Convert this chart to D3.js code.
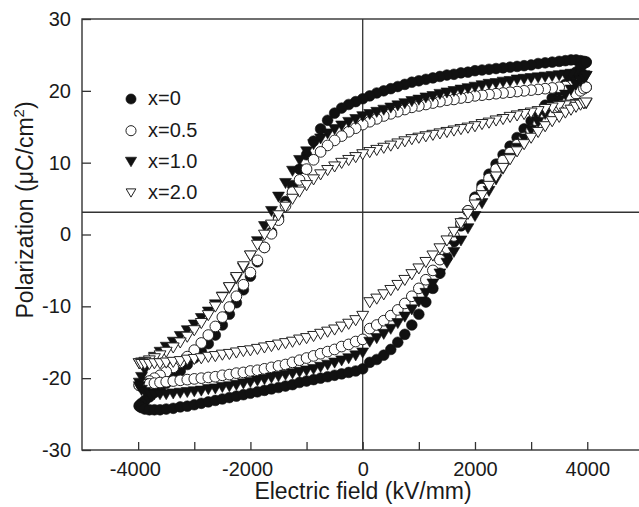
<!DOCTYPE html>
<html><head><meta charset="utf-8">
<script src="https://cdn.jsdelivr.net/npm/d3@7"></script>
<style>
body{margin:0;background:#fff}
svg{display:block}
text{font-family:Arial,"Liberation Sans",Helvetica,sans-serif;fill:#1a1a1a}
</style></head>
<body><svg id="c" width="639" height="507"></svg>
<script>
// ---- data ----
const xTicksMajor = [-4000,-2000,0,2000,4000];
const xTicksMinor = [-3000,-1000,1000,3000];
const yTicks = [-30,-20,-10,0,10,20,30];
const seriesNames = ["x=0","x=0.5","x=1.0","x=2.0"];
const refLineP = 3.1;

// field sweep: descending branch (upper) and ascending branch (lower)
const fieldDown = [3980,3940,3880,3800,3710,3610,3500,
 3375,3250,3125,3000,2875,2750,2625,2500,2375,2250,2125,
 2000,1875,1750,1625,1500,1375,1250,1125,1000,875,750,
 625,500,375,250,125,0,-125,-250,-375,-500,-625,
 -750,-875,-1000,-1125,-1250,-1375,-1500,-1625,-1750,-1875,-2000,
 -2125,-2250,-2375,-2500,-2625,-2750,-2875,-3000,-3125,-3250,-3375,
 -3500,-3610,-3710,-3800,-3880,-3940,-3980];
const fieldUp = [-3980,-3940,-3880,-3800,-3710,-3610,-3500,
 -3375,-3250,-3125,-3000,-2875,-2750,-2625,-2500,-2375,-2250,-2125,
 -2000,-1875,-1750,-1625,-1500,-1375,-1250,-1125,-1000,-875,-750,
 -625,-500,-375,-250,-125,0,125,250,375,500,625,
 750,875,1000,1125,1250,1375,1500,1625,1750,1875,2000,
 2125,2250,2375,2500,2625,2750,2875,3000,3125,3250,3375,
 3500,3610,3710,3800,3880,3940,3980];

// x=0
const p0Down = [24.0,24.1,24.2,24.3,24.3,24.2,24.1,
 24.0,23.9,23.8,23.6,23.5,23.4,23.3,23.2,23.1,23.0,22.9,
 22.8,22.6,22.5,22.3,22.2,22.0,21.8,21.6,21.4,21.2,20.9,
 20.6,20.3,20.0,19.7,19.3,18.9,18.5,18.1,17.6,16.9,15.9,
 14.7,13.0,11.1,9.1,6.8,4.6,2.4,0.3,-1.8,-3.8,-5.8,
 -7.7,-9.5,-11.1,-12.6,-14.0,-15.2,-16.3,-17.2,-18.1,-19.0,-19.8,
 -20.7,-21.4,-22.0,-22.6,-23.1,-23.5,-23.8];
const p0Up = [-23.9,-24.1,-24.3,-24.4,-24.4,-24.4,-24.3,
 -24.2,-24.0,-23.9,-23.7,-23.5,-23.3,-23.1,-22.9,-22.7,-22.5,-22.3,
 -22.1,-21.9,-21.7,-21.5,-21.3,-21.1,-20.9,-20.6,-20.4,-20.2,-20.0,
 -19.8,-19.6,-19.4,-19.2,-19.0,-18.7,-17.8,-17.4,-16.8,-16.0,-15.0,
 -13.9,-12.6,-11.1,-9.4,-7.5,-5.4,-3.2,-1.0,1.2,3.3,5.2,
 6.9,8.4,9.8,11.1,12.3,13.5,14.7,15.8,16.9,18.0,19.0,
 20.0,20.9,21.8,22.6,23.3,23.8,24.0];
// x=0.5
const p05Down = [20.5,20.6,20.7,20.7,20.7,20.6,20.5,
 20.4,20.3,20.2,20.1,20.0,19.9,19.8,19.7,19.6,19.5,19.4,
 19.3,19.1,19.0,18.8,18.7,18.5,18.3,18.1,17.9,17.7,17.4,
 17.1,16.8,16.5,16.1,15.7,15.3,14.8,14.3,13.7,13.1,12.4,
 11.5,10.4,9.1,7.6,5.9,4.0,2.0,0.1,-1.8,-3.6,-5.3,
 -7.0,-8.6,-10.1,-11.5,-12.8,-14.0,-15.1,-16.1,-17.0,-17.8,-18.5,
 -19.1,-19.6,-20.0,-20.4,-20.7,-20.9,-21.0];
const p05Up = [-21.0,-21.0,-20.9,-20.8,-20.7,-20.6,-20.5,
 -20.4,-20.3,-20.2,-20.1,-20.0,-19.9,-19.8,-19.6,-19.5,-19.3,-19.2,
 -19.0,-18.9,-18.7,-18.5,-18.3,-18.1,-17.8,-17.5,-17.2,-16.9,-16.6,
 -16.3,-16.0,-15.6,-15.3,-14.9,-14.6,-13.1,-12.6,-12.0,-11.3,-10.5,
 -9.6,-8.6,-7.5,-6.3,-5.0,-3.5,-1.9,-0.2,1.6,3.3,4.9,
 6.4,7.8,9.1,10.3,11.4,12.5,13.5,14.5,15.4,16.2,17.0,
 17.8,18.5,19.1,19.6,20.0,20.3,20.5];
// x=1.0
const p10Down = [22.0,22.1,22.2,22.3,22.3,22.2,22.1,
 22.0,21.9,21.8,21.7,21.6,21.5,21.3,21.2,21.0,20.9,20.7,
 20.5,20.3,20.1,19.9,19.7,19.5,19.2,19.0,18.7,18.5,18.2,
 17.9,17.6,17.3,17.0,16.7,16.4,16.0,15.6,15.1,14.6,14.0,
 13.3,12.5,11.5,10.3,8.8,7.1,5.2,3.2,1.1,-1.0,-3.0,
 -4.7,-6.2,-7.5,-8.7,-9.8,-10.8,-11.7,-12.6,-13.4,-14.2,-15.0,
 -15.7,-16.4,-17.1,-17.9,-18.9,-19.9,-20.7];
const p10Up = [-21.2,-21.7,-22.0,-22.2,-22.3,-22.3,-22.3,
 -22.2,-22.1,-22.0,-21.9,-21.8,-21.6,-21.5,-21.3,-21.2,-21.0,-20.8,
 -20.6,-20.4,-20.2,-20.0,-19.8,-19.6,-19.4,-19.2,-19.0,-18.8,-18.5,
 -18.2,-17.9,-17.6,-17.3,-16.9,-16.5,-15.0,-14.5,-13.9,-13.2,-12.4,
 -11.5,-10.5,-9.4,-8.2,-6.9,-5.5,-4.0,-2.5,-0.9,0.8,2.5,
 4.3,6.0,7.6,9.1,10.6,12.0,13.3,14.5,15.6,16.7,17.7,
 18.6,19.4,20.1,20.8,21.3,21.7,22.0];
// x=2.0
const p20Down = [18.2,18.2,18.2,18.1,18.0,17.9,17.8,
 17.6,17.4,17.1,16.9,16.7,16.5,16.3,16.0,15.8,15.5,15.3,
 15.0,14.8,14.6,14.4,14.2,14.0,13.8,13.6,13.4,13.2,12.9,
 12.6,12.3,12.0,11.7,11.4,11.1,10.7,10.3,9.9,9.4,8.9,
 8.3,7.6,6.8,5.9,4.9,3.8,2.6,1.3,-0.1,-1.5,-3.0,
 -4.5,-6.0,-7.4,-8.8,-10.1,-11.3,-12.4,-13.4,-14.3,-15.1,-15.8,
 -16.4,-16.9,-17.3,-17.6,-17.8,-17.9,-18.0];
const p20Up = [-18.0,-18.1,-18.1,-18.1,-18.0,-18.0,-17.9,
 -17.8,-17.7,-17.5,-17.4,-17.3,-17.1,-17.0,-16.8,-16.7,-16.5,-16.3,
 -16.2,-16.0,-15.8,-15.6,-15.4,-15.2,-15.0,-14.7,-14.5,-14.2,-13.9,
 -13.6,-13.3,-12.9,-12.5,-12.0,-11.4,-9.5,-9.0,-8.4,-7.8,-7.1,
 -6.4,-5.6,-4.8,-3.9,-3.0,-2.0,-0.9,0.3,1.5,2.8,4.1,
 5.4,6.7,8.0,9.2,10.4,11.5,12.5,13.4,14.2,15.0,15.7,
 16.3,16.9,17.3,17.7,18.0,18.2,18.3];

// ---- drawing ----
const svg = d3.select("#c");
const x = d3.scaleLinear().domain([-5000,5000]).range([82,643.4]);
const y = d3.scaleLinear().domain([-30,30]).range([450,19]);
const axisColor = "#333";

const triDown = {draw(ctx, size){
  const w = Math.sqrt(size/0.425), h = 0.85*w;
  ctx.moveTo(-w/2,-h/2); ctx.lineTo(w/2,-h/2); ctx.lineTo(0,h/2); ctx.closePath();
}};
const styles = [
  {type:d3.symbolCircle, size:90, fill:"#111", stroke:"#111", sw:0.6},
  {type:d3.symbolCircle, size:90, fill:"#fff", stroke:"#222", sw:1},
  {type:triDown, size:60, fill:"#111", stroke:"#111", sw:0.6},
  {type:triDown, size:60, fill:"#fff", stroke:"#222", sw:1}
];
const downs = [p0Down,p05Down,p10Down,p20Down];
const ups = [p0Up,p05Up,p10Up,p20Up];

// reference lines
svg.append("line").attr("x1",x(0)).attr("x2",x(0)).attr("y1",y(30)).attr("y2",y(-30))
  .attr("stroke",axisColor).attr("stroke-width",1.3);
svg.append("line").attr("x1",x(-5000)).attr("x2",x(5000)).attr("y1",y(refLineP)).attr("y2",y(refLineP))
  .attr("stroke",axisColor).attr("stroke-width",1.3);

// data markers
seriesNames.forEach((name,k)=>{
  const st = styles[k];
  const pts = fieldDown.map((e,i)=>[e,downs[k][i]]).concat(fieldUp.map((e,i)=>[e,ups[k][i]]));
  const sym = d3.symbol().type(st.type).size(st.size);
  svg.append("g").selectAll("path").data(pts).join("path")
    .attr("d",sym)
    .attr("transform",d=>`translate(${x(d[0])},${y(d[1])})`)
    .attr("fill",st.fill).attr("stroke",st.stroke).attr("stroke-width",st.sw);
});

// frame
svg.append("rect").attr("x",x(-5000)).attr("y",y(30))
  .attr("width",x(5000)-x(-5000)).attr("height",y(-30)-y(30))
  .attr("fill","none").attr("stroke",axisColor).attr("stroke-width",1.4);

// axes
const xAxis = d3.axisBottom(x)
  .tickValues(xTicksMajor.concat(xTicksMinor))
  .tickSizeInner(-8).tickSizeOuter(0).tickPadding(11.5)
  .tickFormat(d => xTicksMajor.includes(d) ? String(d) : "");
const gx = svg.append("g").attr("transform",`translate(0,${y(-30)})`).call(xAxis);
gx.select(".domain").remove();
gx.selectAll(".tick line").attr("stroke",axisColor).attr("stroke-width",1.3);
gx.selectAll(".tick text").attr("font-size",20).attr("fill","#1a1a1a")
  .attr("font-family","Arial, 'Liberation Sans', sans-serif")
  .attr("dx",d=> d<0 ? -3.3 : 0);

const yAxis = d3.axisLeft(y).tickValues(yTicks)
  .tickSizeInner(-9).tickSizeOuter(0).tickPadding(11)
  .tickFormat(d=>String(d));
const gy = svg.append("g").attr("transform",`translate(${x(-5000)},0)`).call(yAxis);
gy.select(".domain").remove();
gy.selectAll(".tick line").attr("stroke",axisColor).attr("stroke-width",1.3);
gy.selectAll(".tick text").attr("font-size",20).attr("fill","#1a1a1a")
  .attr("font-family","Arial, 'Liberation Sans', sans-serif");

// axis titles
svg.append("text").attr("x",363).attr("y",498.5).attr("text-anchor","middle")
  .attr("font-size",23).text("Electric field (kV/mm)");
const yt = svg.append("text").attr("transform","translate(33,210) rotate(-90)")
  .attr("text-anchor","middle").attr("font-size",23);
yt.append("tspan").text("Polarization (\u03BCC/cm");
yt.append("tspan").attr("font-size",15).attr("dy",-9).text("2");
yt.append("tspan").attr("dy",9).text(")");

// legend
const legY = [105,136.7,168,199];
seriesNames.forEach((name,k)=>{
  const st = styles[k];
  const sym = d3.symbol().type(st.type).size(k%2===1 ? (k===3?40:80) : st.size*0.9);
  svg.append("path").attr("d",sym)
    .attr("transform",`translate(131,${legY[k]-6})`)
    .attr("fill",st.fill).attr("stroke",st.stroke).attr("stroke-width",st.sw);
  svg.append("text").attr("x",148).attr("y",legY[k]).attr("font-size",20).text(name);
});
</script></body></html>
